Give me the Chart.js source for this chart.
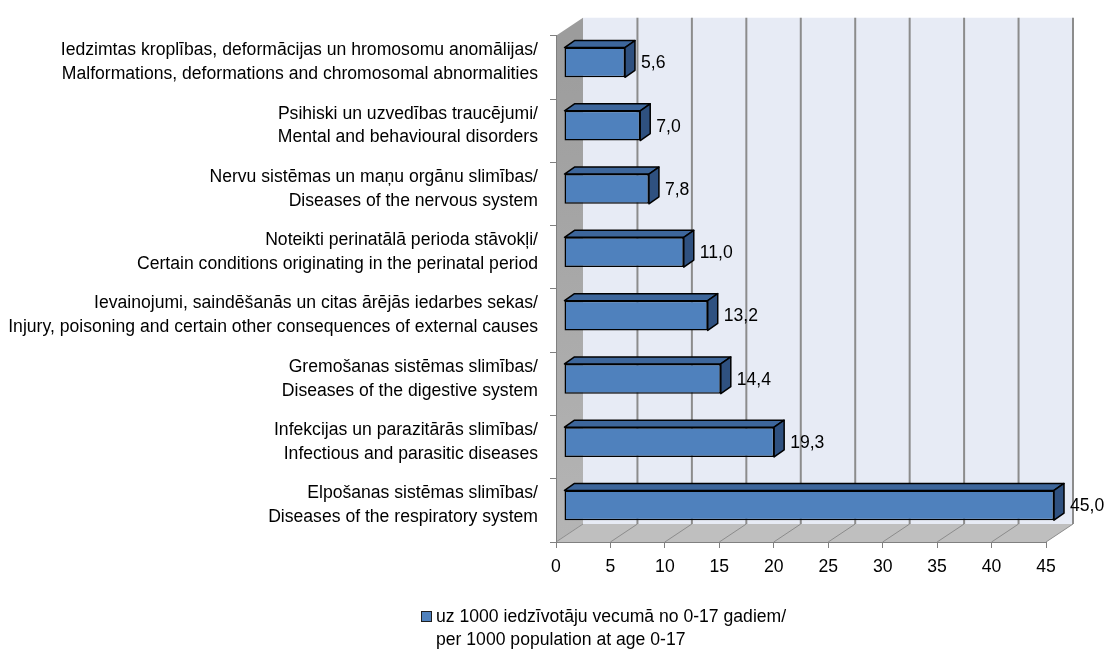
<!DOCTYPE html>
<html>
<head>
<meta charset="utf-8">
<script src="https://cdn.jsdelivr.net/npm/chart.js@4"></script>
<style>
  html, body { margin: 0; padding: 0; background: #fff; }
  #wrap { width: 1107px; height: 653px; }
</style>
</head>
<body>
<div id="wrap"><canvas id="myBarChart" width="1107" height="653"></canvas></div>
<script>
const categories = [
  ['Iedzimtas kroplības, deformācijas un hromosomu anomālijas/', 'Malformations, deformations and chromosomal abnormalities'],
  ['Psihiski un uzvedības traucējumi/', 'Mental and behavioural disorders'],
  ['Nervu sistēmas un maņu orgānu slimības/', 'Diseases of the nervous system'],
  ['Noteikti perinatālā perioda stāvokļi/', 'Certain conditions originating in the perinatal period'],
  ['Ievainojumi, saindēšanās un citas ārējās iedarbes sekas/', 'Injury, poisoning and certain other consequences of external causes'],
  ['Gremošanas sistēmas slimības/', 'Diseases of the digestive system'],
  ['Infekcijas un parazitārās slimības/', 'Infectious and parasitic diseases'],
  ['Elpošanas sistēmas slimības/', 'Diseases of the respiratory system']
]
const values = [5.6, 7.0, 7.8, 11.0, 13.2, 14.4, 19.3, 45.0]
const seriesLabel = ['uz 1000 iedzīvotāju vecumā no 0-17 gadiem/', 'per 1000 population at age 0-17']
const xMin = 0
const xMax = 45
const xStep = 5

const FONT = '"Liberation Sans", Arial, sans-serif'
const FSIZE = 17.6

const DEPTH = { x: 27, y: -18 }      // wall depth
const BAR_SHIFT = { x: 8, y: -5 }    // bar front face position inside the depth
const BAR_DEPTH = { x: 10, y: -7 }

const wallsPlugin = {
  id: 'walls',
  beforeDraw(chart) {
    const ctx = chart.ctx
    const a = chart.chartArea
    const xs = chart.scales.x
    ctx.save()
    ctx.fillStyle = '#fff'
    ctx.fillRect(0, 0, chart.width, chart.height)

    // back wall
    ctx.fillStyle = '#e7ebf5'
    ctx.fillRect(a.left + DEPTH.x, a.top + DEPTH.y, a.right - a.left, a.bottom - a.top)

    // side wall
    const g = ctx.createLinearGradient(0, a.top, 0, a.bottom)
    g.addColorStop(0, '#9c9c9c')
    g.addColorStop(1, '#b5b5b5')
    ctx.fillStyle = g
    ctx.beginPath()
    ctx.moveTo(a.left, a.top)
    ctx.lineTo(a.left + DEPTH.x, a.top + DEPTH.y)
    ctx.lineTo(a.left + DEPTH.x, a.bottom + DEPTH.y)
    ctx.lineTo(a.left, a.bottom)
    ctx.closePath()
    ctx.fill()

    // floor
    ctx.fillStyle = '#bfbfbf'
    ctx.beginPath()
    ctx.moveTo(a.left, a.bottom)
    ctx.lineTo(a.left + DEPTH.x, a.bottom + DEPTH.y)
    ctx.lineTo(a.right + DEPTH.x, a.bottom + DEPTH.y)
    ctx.lineTo(a.right, a.bottom)
    ctx.closePath()
    ctx.fill()

    // grid lines on the back wall and the floor
    ctx.strokeStyle = '#8c8c8c'
    for (let v = xMin; v <= xMax; v += xStep) {
      const px = xs.getPixelForValue(v)
      if (v > xMin) {
        ctx.lineWidth = 2
        ctx.beginPath()
        ctx.moveTo(px + DEPTH.x, a.top + DEPTH.y)
        ctx.lineTo(px + DEPTH.x, a.bottom + DEPTH.y)
        ctx.stroke()
      }
      ctx.lineWidth = 1
      ctx.beginPath()
      ctx.moveTo(px, a.bottom)
      ctx.lineTo(px + DEPTH.x, a.bottom + DEPTH.y)
      ctx.stroke()
    }
    ctx.restore()
  },
  beforeDatasetsDraw(chart) {
    chart.ctx.save()
    chart.ctx.translate(BAR_SHIFT.x, BAR_SHIFT.y)
  },
  afterDatasetsDraw(chart) {
    const ctx = chart.ctx
    const meta = chart.getDatasetMeta(0)
    meta.data.forEach((bar, i) => {
      const p = bar.getProps(['x', 'y', 'base', 'height'], true)
      const x0 = p.base
      const x1 = p.x
      const yT = p.y - p.height / 2
      const yB = p.y + p.height / 2
      ctx.lineWidth = 1.5
      ctx.strokeStyle = '#000'
      ctx.lineJoin = 'round'
      // top face
      ctx.fillStyle = '#3d669b'
      ctx.beginPath()
      ctx.moveTo(x0, yT)
      ctx.lineTo(x0 + BAR_DEPTH.x, yT + BAR_DEPTH.y)
      ctx.lineTo(x1 + BAR_DEPTH.x, yT + BAR_DEPTH.y)
      ctx.lineTo(x1, yT)
      ctx.closePath()
      ctx.fill()
      ctx.stroke()
      // side face
      ctx.fillStyle = '#2f5180'
      ctx.beginPath()
      ctx.moveTo(x1, yT)
      ctx.lineTo(x1 + BAR_DEPTH.x, yT + BAR_DEPTH.y)
      ctx.lineTo(x1 + BAR_DEPTH.x, yB + BAR_DEPTH.y)
      ctx.lineTo(x1, yB)
      ctx.closePath()
      ctx.fill()
      ctx.stroke()
      // value label
      ctx.fillStyle = '#000'
      ctx.font = FSIZE + 'px ' + FONT
      ctx.textAlign = 'left'
      ctx.textBaseline = 'middle'
      ctx.fillText(values[i].toFixed(1).replace('.', ','), x1 + BAR_DEPTH.x + 6, p.y + 1)
    })
    ctx.restore()
  },
  afterDraw(chart) {
    const ctx = chart.ctx
    ctx.save()
    ctx.fillStyle = '#4f81bd'
    ctx.strokeStyle = '#1f1f1f'
    ctx.lineWidth = 1
    ctx.fillRect(421.5, 611.5, 10, 10)
    ctx.strokeRect(421.5, 611.5, 10, 10)
    ctx.fillStyle = '#000'
    ctx.font = FSIZE + 'px ' + FONT
    ctx.textAlign = 'left'
    ctx.textBaseline = 'middle'
    seriesLabel.forEach((line, i) => ctx.fillText(line, 436, 617 + i * 23))
    ctx.restore()
  }
}

const ctx = document.getElementById('myBarChart').getContext('2d')
const chart = new Chart(ctx, {
  type: 'bar',
  data: {
    labels: categories,
    datasets: [{
      label: seriesLabel.join(' '),
      data: values,
      backgroundColor: '#4f81bd',
      borderColor: '#000',
      borderWidth: 1.5,
      borderSkipped: false,
      barPercentage: 0.47,
      categoryPercentage: 1
    }]
  },
  options: {
    indexAxis: 'y',
    responsive: false,
    animation: false,
    layout: { padding: { top: 33, right: 61, left: 0, bottom: 0 } },
    plugins: {
      legend: { display: false },
      tooltip: { enabled: false }
    },
    scales: {
      x: {
        min: xMin,
        max: xMax,
        afterFit: (s) => { s.height = 111 },
        ticks: { stepSize: xStep, color: '#000', padding: 9, font: { family: FONT, size: FSIZE } },
        grid: { drawOnChartArea: false, drawTicks: true, tickLength: 6, color: '#808080' },
        border: { color: '#808080' }
      },
      y: {
        afterFit: (s) => { s.width = 556 },
        ticks: { color: '#000', padding: 12, labelOffset: -5, font: { family: FONT, size: FSIZE, lineHeight: 1.35 } },
        grid: { drawOnChartArea: false, drawTicks: true, tickLength: 6, color: '#808080', offset: true },
        border: { color: '#808080' }
      }
    }
  },
  plugins: [wallsPlugin]
})
</script>
</body>
</html>
